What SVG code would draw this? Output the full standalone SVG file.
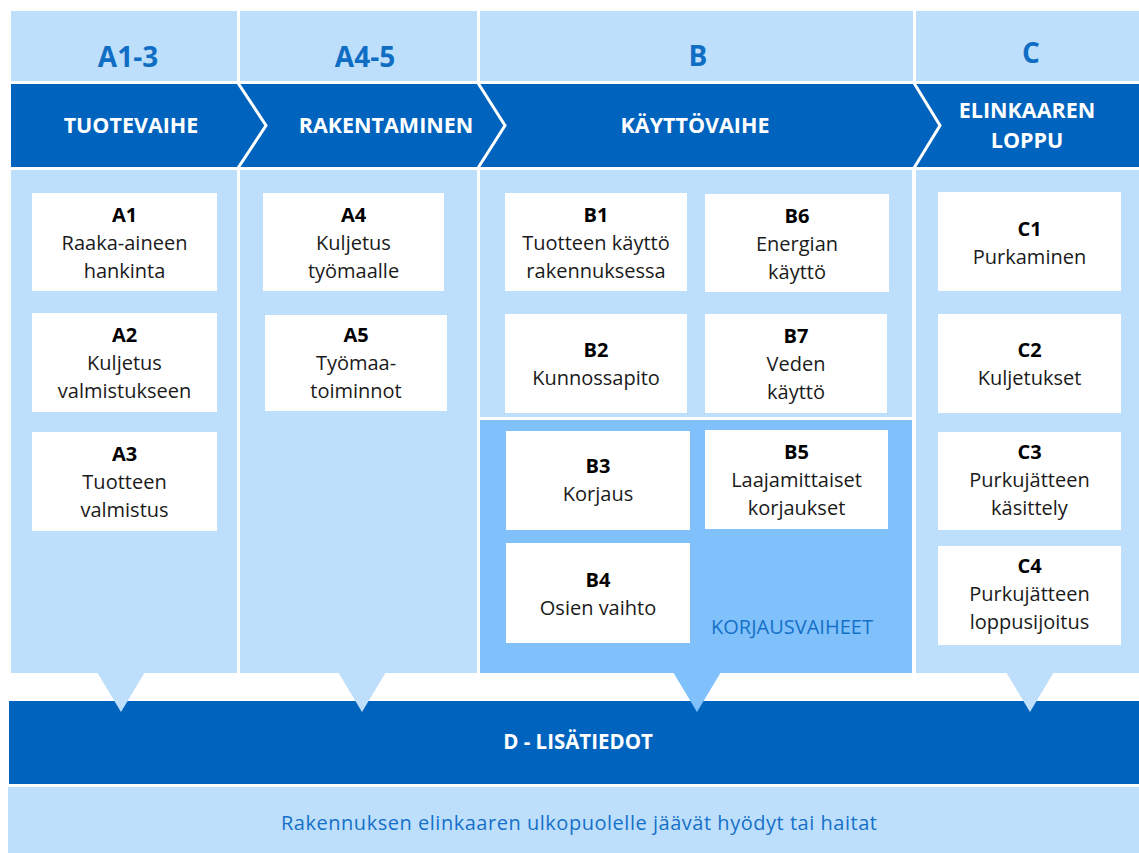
<svg xmlns="http://www.w3.org/2000/svg" width="1139" height="853" viewBox="0 0 1139 853">
  <style>
    .lite { fill: #BEDFFC; }
    .mid { fill: #80C1FB; }
    .dark { fill: #0064BE; }
    .box { fill: #FFFFFF; }
    .code { font-family: "Open Sans", "Liberation Sans", sans-serif; font-weight: 700; font-size: 20px; fill: #000000; text-anchor: middle; }
    .desc { font-family: "Open Sans", "Liberation Sans", sans-serif; font-size: 20px; fill: #1A1A1A; text-anchor: middle; }
    .stage { font-family: "Open Sans", "Liberation Sans", sans-serif; font-weight: 700; font-size: 28px; fill: #0F6EC4; text-anchor: middle; }
    .phase { font-family: "Open Sans", "Liberation Sans", sans-serif; font-weight: 700; font-size: 21.5px; fill: #FFFFFF; text-anchor: middle; }
    .phase.small { font-size: 20.5px; }
    .note { font-family: "Open Sans", "Liberation Sans", sans-serif; font-size: 20px; fill: #1570C8; text-anchor: middle; }
    .chev { fill: none; stroke: #FFFFFF; stroke-width: 3; }
  </style>

  <rect width="1139" height="853" fill="#FFFFFF"/>

  <!-- stage header cells -->
  <g id="stage-headers">
    <rect class="lite" x="11" y="11" width="226" height="70"/>
    <rect class="lite" x="240" y="11" width="237" height="70"/>
    <rect class="lite" x="480" y="11" width="433" height="70"/>
    <rect class="lite" x="916" y="11" width="223" height="70"/>
    <text class="stage" x="128" y="67">A1-3</text>
    <text class="stage" x="365" y="67">A4-5</text>
    <text class="stage" x="698" y="66">B</text>
    <text class="stage" x="1031" y="63">C</text>
  </g>

  <!-- phase band with chevron separators -->
  <g id="phase-band">
    <rect class="dark" x="11" y="84" width="1128" height="83"/>
    <polyline class="chev" points="238,83 266,125.5 238,168"/>
    <polyline class="chev" points="478,83 505,125.5 478,168"/>
    <polyline class="chev" points="914,83 940,125.5 914,168"/>
    <text class="phase" x="131" y="133">TUOTEVAIHE</text>
    <text class="phase" x="386" y="133">RAKENTAMINEN</text>
    <text class="phase" x="695" y="133">KÄYTTÖVAIHE</text>
    <text class="phase" x="1027" y="118">ELINKAAREN</text>
    <text class="phase" x="1027" y="148">LOPPU</text>
  </g>

  <!-- column bodies -->
  <g id="columns">
    <rect class="lite" x="11" y="170" width="226" height="503"/>
    <rect class="lite" x="240" y="170" width="237" height="503"/>
    <rect class="lite" x="480" y="170" width="432" height="247"/>
    <rect class="mid" x="480" y="420" width="432" height="253"/>
    <rect class="lite" x="916" y="170" width="223" height="503"/>
    <text class="note" x="792" y="634">KORJAUSVAIHEET</text>
  </g>

  <!-- pointers from each column into the D band -->
  <g id="connectors">
    <rect class="dark" x="9" y="701" width="1130" height="83"/>
    <polygon class="lite" points="97,672 145,672 121,712"/>
    <polygon class="lite" points="338,672 386,672 362,712"/>
    <polygon class="mid" points="673,672 721,672 697,712"/>
    <polygon class="lite" points="1006,672 1054,672 1030,712"/>
  </g>

  <!-- A1-3 -->
  <g id="A1">
    <rect class="box" x="32" y="193" width="185" height="98"/>
    <text class="code" x="124.5" y="222">A1</text>
    <text class="desc" x="124.5" y="250">Raaka-aineen</text>
    <text class="desc" x="124.5" y="278">hankinta</text>
  </g>
  <g id="A2">
    <rect class="box" x="32" y="313" width="185" height="99"/>
    <text class="code" x="124.5" y="342">A2</text>
    <text class="desc" x="124.5" y="370">Kuljetus</text>
    <text class="desc" x="124.5" y="398">valmistukseen</text>
  </g>
  <g id="A3">
    <rect class="box" x="32" y="432" width="185" height="99"/>
    <text class="code" x="124.5" y="461">A3</text>
    <text class="desc" x="124.5" y="489">Tuotteen</text>
    <text class="desc" x="124.5" y="517">valmistus</text>
  </g>

  <!-- A4-5 -->
  <g id="A4">
    <rect class="box" x="263" y="193" width="181" height="98"/>
    <text class="code" x="353.5" y="222">A4</text>
    <text class="desc" x="353.5" y="250">Kuljetus</text>
    <text class="desc" x="353.5" y="278">työmaalle</text>
  </g>
  <g id="A5">
    <rect class="box" x="265" y="315" width="182" height="96"/>
    <text class="code" x="356" y="342">A5</text>
    <text class="desc" x="356" y="370">Työmaa-</text>
    <text class="desc" x="356" y="398">toiminnot</text>
  </g>

  <!-- B -->
  <g id="B1">
    <rect class="box" x="505" y="193" width="182" height="98"/>
    <text class="code" x="596" y="222">B1</text>
    <text class="desc" x="596" y="250">Tuotteen käyttö</text>
    <text class="desc" x="596" y="278">rakennuksessa</text>
  </g>
  <g id="B6">
    <rect class="box" x="705" y="194" width="184" height="98"/>
    <text class="code" x="797" y="223">B6</text>
    <text class="desc" x="797" y="251">Energian</text>
    <text class="desc" x="797" y="279">käyttö</text>
  </g>
  <g id="B2">
    <rect class="box" x="505" y="314" width="182" height="99"/>
    <text class="code" x="596" y="357">B2</text>
    <text class="desc" x="596" y="385">Kunnossapito</text>
  </g>
  <g id="B7">
    <rect class="box" x="705" y="314" width="182" height="99"/>
    <text class="code" x="796" y="343">B7</text>
    <text class="desc" x="796" y="371">Veden</text>
    <text class="desc" x="796" y="399">käyttö</text>
  </g>
  <g id="B3">
    <rect class="box" x="506" y="431" width="184" height="99"/>
    <text class="code" x="598" y="473">B3</text>
    <text class="desc" x="598" y="501">Korjaus</text>
  </g>
  <g id="B5">
    <rect class="box" x="705" y="430" width="183" height="99"/>
    <text class="code" x="796.5" y="459">B5</text>
    <text class="desc" x="796.5" y="487">Laajamittaiset</text>
    <text class="desc" x="796.5" y="515">korjaukset</text>
  </g>
  <g id="B4">
    <rect class="box" x="506" y="543" width="184" height="100"/>
    <text class="code" x="598" y="587">B4</text>
    <text class="desc" x="598" y="615">Osien vaihto</text>
  </g>

  <!-- C -->
  <g id="C1">
    <rect class="box" x="938" y="192" width="183" height="99"/>
    <text class="code" x="1029.5" y="236">C1</text>
    <text class="desc" x="1029.5" y="264">Purkaminen</text>
  </g>
  <g id="C2">
    <rect class="box" x="938" y="314" width="183" height="99"/>
    <text class="code" x="1029.5" y="357">C2</text>
    <text class="desc" x="1029.5" y="385">Kuljetukset</text>
  </g>
  <g id="C3">
    <rect class="box" x="938" y="432" width="183" height="98"/>
    <text class="code" x="1029.5" y="459">C3</text>
    <text class="desc" x="1029.5" y="487">Purkujätteen</text>
    <text class="desc" x="1029.5" y="515">käsittely</text>
  </g>
  <g id="C4">
    <rect class="box" x="938" y="546" width="183" height="99"/>
    <text class="code" x="1029.5" y="573">C4</text>
    <text class="desc" x="1029.5" y="601">Purkujätteen</text>
    <text class="desc" x="1029.5" y="629">loppusijoitus</text>
  </g>

  <!-- D band and the outside-lifecycle strip -->
  <g id="D">
    <text class="phase small" x="578" y="749">D - LISÄTIEDOT</text>
  </g>
  <g id="beyond">
    <rect class="lite" x="8" y="787" width="1131" height="66"/>
    <text class="note" x="579" y="830" textLength="596" lengthAdjust="spacing">Rakennuksen elinkaaren ulkopuolelle jäävät hyödyt tai haitat</text>
  </g>
</svg>
